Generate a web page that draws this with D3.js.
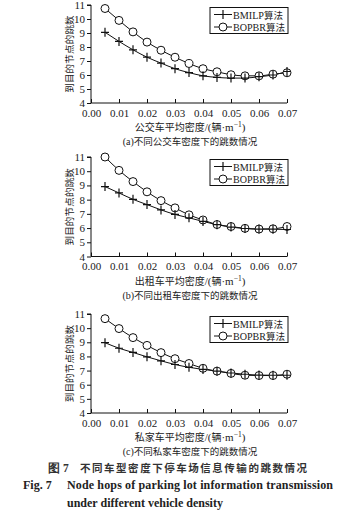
<!DOCTYPE html>
<html><head><meta charset="utf-8">
<script src="https://cdn.jsdelivr.net/npm/d3@7"></script>
<style>
html,body{margin:0;padding:0;background:#fff;}
svg{display:block;}
</style></head>
<body>
<svg id="chart" width="348" height="517"></svg>
<script>
// vehicle densities (veh/m)
const densities = [0.005,0.01,0.015,0.02,0.025,0.03,0.035,0.04,0.045,0.05,0.055,0.06,0.065,0.07];
const xTicks = [0,0.01,0.02,0.03,0.04,0.05,0.06,0.07];
const yTicks = [4,5,6,7,8,9,10,11];
const seriesNames = ["BMILP","BOPBR"];

// (a) bus density
const busBMILP = [9.05,8.4,7.8,7.27,6.85,6.45,6.17,5.94,5.83,5.78,5.78,5.88,6.0,6.25];
const busBOPBR = [10.75,9.9,9.08,8.35,7.77,7.27,6.82,6.45,6.23,6.02,5.94,5.94,6.06,6.16];
// (b) taxi density
const taxiBMILP = [8.92,8.47,8.02,7.65,7.28,6.96,6.72,6.47,6.24,6.07,5.97,5.93,5.92,5.9];
const taxiBOPBR = [11.0,10.06,9.27,8.55,7.93,7.42,6.93,6.57,6.25,6.11,5.98,5.93,5.95,6.11];
// (c) private car density
const carBMILP = [8.97,8.58,8.28,7.97,7.69,7.43,7.23,7.08,6.96,6.83,6.74,6.68,6.67,6.67];
const carBOPBR = [10.67,9.97,9.33,8.78,8.27,7.84,7.5,7.16,6.96,6.8,6.67,6.65,6.65,6.74];

const vehicleTypes = ["公交车","出租车","私家车"];
const subLabels = ["(a)","(b)","(c)"];
const yLabel = "到目的节点的跳数";

const panels = [
  {top:5, bottom:103, a:busBMILP, b:busBOPBR},
  {top:157, bottom:256.5, a:taxiBMILP, b:taxiBOPBR},
  {top:314, bottom:413, a:carBMILP, b:carBOPBR}
];

const svg = d3.select("#chart");
const serif = "'Liberation Serif','Times New Roman',serif";
const cjk = "'Noto Sans CJK SC',sans-serif";
const left = 91, right = 287;

const x = d3.scaleLinear().domain([0,0.07]).range([left,right]);

function plus(g, cx, cy){
  g.append("path").attr("d",`M${cx-4},${cy}H${cx+4}M${cx},${cy-4.5}V${cy+4.5}`)
    .attr("stroke","#111").attr("stroke-width",1.2).attr("fill","none");
}
function circ(g, cx, cy){
  g.append("circle").attr("cx",cx).attr("cy",cy).attr("r",4)
    .attr("stroke","#111").attr("stroke-width",1).attr("fill","#fff");
}

panels.forEach((p,i)=>{
  const y = d3.scaleLinear().domain([4,11]).range([p.bottom,p.top]);
  const g = svg.append("g");

  // y axis
  const ya = g.append("g").attr("transform",`translate(${left},0)`)
    .call(d3.axisLeft(y).tickValues(yTicks).tickSize(4).tickPadding(2).tickFormat(d3.format("d")));
  ya.select(".domain").attr("stroke","#111").attr("d",`M-4,${y(11)}H0V${y(4)}`);
  ya.selectAll(".tick line").attr("stroke","#111");
  ya.selectAll("text").attr("font-family",serif).attr("font-size",11).attr("fill","#222");

  // x axis, ticks pointing inward
  const xa = g.append("g").attr("transform",`translate(0,${p.bottom})`)
    .call(d3.axisBottom(x).tickValues(xTicks).tickSize(-4).tickPadding(6).tickFormat(d3.format(".2f")));
  xa.select(".domain").attr("stroke","#111").attr("d",`M${left},0H${right}`);
  xa.selectAll(".tick line").attr("stroke","#111");
  xa.selectAll("text").attr("font-family",serif).attr("font-size",11).attr("fill","#222");

  // y label
  g.append("text").attr("transform",`translate(70,${(p.top+p.bottom)/2}) rotate(-90)`)
    .attr("text-anchor","middle").attr("dominant-baseline","middle")
    .attr("font-family",cjk).attr("font-size",9.5).attr("letter-spacing",0.2)
    .attr("fill","#222").text(yLabel);

  // x label: "<type>平均密度/(辆·m⁻¹)"
  const xl = g.append("text").attr("x",190).attr("y",p.bottom+28).attr("text-anchor","middle")
    .attr("font-family",serif).attr("font-size",11).attr("fill","#222");
  xl.append("tspan").attr("font-family",cjk).attr("font-size",10).text(vehicleTypes[i]+"平均密度");
  xl.append("tspan").text("/(");
  xl.append("tspan").attr("font-family",cjk).attr("font-size",10).text("辆");
  xl.append("tspan").text("·m");
  xl.append("tspan").attr("dy",-4).attr("font-size",7.5).text("−1");
  xl.append("tspan").attr("dy",4).text(")");

  // sub caption
  const sc = g.append("text").attr("x",190).attr("y",p.bottom+42).attr("text-anchor","middle")
    .attr("font-size",9.5).attr("fill","#222");
  sc.append("tspan").attr("font-family",serif).attr("font-size",10).text(subLabels[i]);
  sc.append("tspan").attr("font-family",cjk).text("不同"+vehicleTypes[i]+"密度下的跳数情况");

  // curves
  const line = d3.line().x((d,j)=>x(densities[j])).y(d=>y(d)).curve(d3.curveMonotoneX);
  [p.a,p.b].forEach(vals=>{
    g.append("path").datum(vals).attr("d",line).attr("fill","none").attr("stroke","#111").attr("stroke-width",1);
  });
  p.b.forEach((v,j)=>circ(g,x(densities[j]),y(v)));
  p.a.forEach((v,j)=>plus(g,x(densities[j]),y(v)));

  // legend
  const lx = 210, ly = p.top + 2.5, lw = 78, lh = 26;
  const lg = g.append("g");
  lg.append("rect").attr("x",lx).attr("y",ly).attr("width",lw).attr("height",lh)
    .attr("fill","#fff").attr("stroke","#111").attr("stroke-width",1);
  seriesNames.forEach((name,k)=>{
    const cy = ly + 7 + k*12.5;
    lg.append("line").attr("x1",lx+4).attr("x2",lx+22).attr("y1",cy).attr("y2",cy).attr("stroke","#111");
    if(k===0) plus(lg,lx+13,cy); else circ(lg,lx+13,cy);
    const t = lg.append("text").attr("x",lx+23).attr("y",cy).attr("dominant-baseline","central")
      .attr("fill","#222");
    t.append("tspan").attr("font-family",serif).attr("font-size",10)
      .attr("textLength",k===0?31:33).attr("lengthAdjust","spacingAndGlyphs").text(name);
    t.append("tspan").attr("font-family",cjk).attr("font-size",9.5).text("算法");
  });
});

// figure caption
svg.append("text").attr("x",48).attr("y",472).attr("font-family",serif).attr("font-weight","bold")
  .attr("font-size",11.5).attr("fill","#333").text("图 7");
svg.append("text").attr("x",80).attr("y",472).attr("font-family",cjk).attr("font-weight","bold")
  .attr("font-size",10.5).attr("fill","#333").attr("textLength",227).attr("lengthAdjust","spacing")
  .text("不同车型密度下停车场信息传输的跳数情况");
svg.append("text").attr("x",23).attr("y",489).attr("font-family",serif).attr("font-weight","bold")
  .attr("font-size",12).attr("fill","#222").text("Fig. 7");
svg.append("text").attr("x",67).attr("y",489).attr("font-family",serif).attr("font-weight","bold")
  .attr("font-size",12).attr("fill","#222").attr("textLength",266).attr("lengthAdjust","spacing")
  .text("Node hops of parking lot information transmission");
svg.append("text").attr("x",67).attr("y",507).attr("font-family",serif).attr("font-weight","bold")
  .attr("font-size",12).attr("fill","#222").text("under different vehicle density");
</script>
</body></html>
